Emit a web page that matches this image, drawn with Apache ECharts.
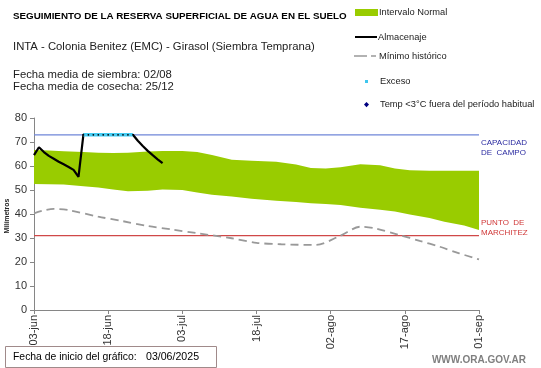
<!DOCTYPE html>
<html><head><meta charset="utf-8">
<script src="https://cdn.jsdelivr.net/npm/echarts@6/dist/echarts.min.js"></script>
<style>html,body{margin:0;padding:0;background:#fff}#c{width:541px;height:368px}</style>
</head><body><div id="c"></div>
<script>
// ---- data ----
var tickLabels = ['03-jun','18-jun','03-jul','18-jul','02-ago','17-ago','01-sep'];
// Intervalo normal (band) : day offsets from 03-jun
var bandDays  = [0, 3, 6, 10, 13, 16, 19, 23, 26, 30, 33, 36, 40, 44, 49, 53, 56, 59, 62, 66, 70, 73, 76, 80, 83, 87, 90];
var bandUpper = [66.7, 66.5, 66.1, 65.8, 65.5, 65.4, 65.5, 66.0, 66.3, 66.2, 65.8, 64.6, 62.6, 62.2, 61.8, 60.6, 59.2, 59.0, 59.5, 60.7, 60.3, 59.0, 58.2, 58.0, 58.0, 58.0, 58.0];
var bandLower = [52.5, 52.4, 52.3, 51.6, 51.0, 50.2, 49.5, 49.7, 50.2, 50.0, 49.0, 48.0, 47.3, 46.4, 45.5, 45.0, 44.5, 44.2, 43.8, 42.6, 41.8, 41.0, 39.8, 38.3, 36.8, 35.2, 33.3];
// Almacenaje
var storeDays = [0, 1, 2, 3, 4, 5, 6, 7, 8, 9, 10, 11, 12, 13, 14, 15, 16, 17, 18, 19, 20, 21, 22, 23, 24, 25, 26];
var storeVals = [64.5, 67.8, 65.8, 64.2, 63.0, 61.8, 60.7, 59.6, 58.4, 55.5, 73.2, 73, 73, 73, 73, 73, 73, 73, 73, 73, 73, 70.5, 68.3, 66.3, 64.5, 62.8, 61.2];
// Exceso
var excessDays = [10, 11, 12, 13, 14, 15, 16, 17, 18, 19, 20];
var excessVals = [73, 73, 73, 73, 73, 73, 73, 73, 73, 73, 73];
// Minimo historico
var minDays = [0, 2, 4, 7, 13, 18, 23, 28, 33, 40, 45, 50, 57, 62, 66, 69, 74, 78, 82, 86, 90];
var minVals = [40.3, 41.5, 42.1, 41.6, 38.9, 37.0, 35.0, 33.5, 32.0, 29.9, 28.0, 27.4, 27.1, 31.0, 34.7, 34.0, 31.2, 28.8, 26.4, 23.6, 21.1];
// Temp <3°C fuera del periodo habitual (none)
var tempDays = [];
var tempVals = [];
var capacidadCampo = 73;
var puntoMarchitez = 31;
var axisSpan = [0, 90];

function pairs(xs, ys){ return xs.map(function(x,i){ return [x, ys[i]]; }); }

var chart = echarts.init(document.getElementById('c'), null, {renderer:'canvas'});
var FONT = 'Liberation Sans, Arial, sans-serif';
chart.setOption({
  animation:false,
  textStyle:{fontFamily:FONT},
  grid:{left:34, right:62, top:118, bottom:58},
  xAxis:{type:'value', min:0, max:90, interval:15,
    axisLine:{lineStyle:{color:'#868686', width:1}},
    axisTick:{show:true, length:4, lineStyle:{color:'#868686'}},
    splitLine:{show:false},
    axisLabel:{rotate:90, fontSize:11, color:'#333', margin:5, fontFamily:FONT,
      formatter:function(v){ return tickLabels[Math.round(v/15)] || ''; }}
  },
  yAxis:{type:'value', min:0, max:80, interval:10,
    axisLine:{show:true, lineStyle:{color:'#868686', width:1}},
    axisTick:{show:true, length:4, lineStyle:{color:'#868686'}},
    splitLine:{show:false},
    axisLabel:{fontSize:11, color:'#333', margin:7, fontFamily:FONT}
  },
  series:[
    {name:'Intervalo Normal', type:'custom', silent:true, z:1,
     data:[[0]],
     renderItem:function(params, api){
       var pts = [];
       for (var i=0;i<bandDays.length;i++) pts.push(api.coord([bandDays[i], bandUpper[i]]));
       for (var j=bandDays.length-1;j>=0;j--) pts.push(api.coord([bandDays[j], bandLower[j]]));
       return {type:'polygon', shape:{points:pts}, style:{fill:'#99cc00'}};
     }},
    {name:'Capacidad', type:'line', symbol:'none', silent:true, z:3,
     data:pairs(axisSpan, [capacidadCampo, capacidadCampo]),
     lineStyle:{color:'#6f86d8', width:1.2}},
    {name:'Marchitez', type:'line', symbol:'none', silent:true, z:3,
     data:pairs(axisSpan, [puntoMarchitez, puntoMarchitez]),
     lineStyle:{color:'#d04848', width:1.2}},
    {name:'Mínimo histórico', type:'line', symbol:'none', data:pairs(minDays, minVals), smooth:0.3,
     lineStyle:{color:'#999999', width:1.8, type:[8,5]}, z:4},
    {name:'Almacenaje', type:'line', symbol:'none', data:pairs(storeDays, storeVals),
     lineStyle:{color:'#000', width:2.2}, z:5},
    {name:'Exceso', type:'line', symbol:'circle', symbolSize:1.7, showSymbol:true,
     data:pairs(excessDays, excessVals),
     itemStyle:{color:'#000', borderWidth:0},
     lineStyle:{color:'#45ccf2', width:3.4}, z:6},
    {name:'Temp', type:'scatter', symbol:'diamond', symbolSize:5, data:pairs(tempDays, tempVals),
     itemStyle:{color:'#000080'}, z:7}
  ],
  graphic:[
    {type:'text', left:13, top:11, style:{text:'SEGUIMIENTO DE LA RESERVA SUPERFICIAL DE AGUA EN EL SUELO', font:'bold 9.8px '+FONT, fill:'#000'}},
    {type:'text', left:13, top:41, style:{text:'INTA - Colonia Benitez (EMC) - Girasol (Siembra Temprana)', font:'11.3px '+FONT, fill:'#222'}},
    {type:'text', left:13, top:69, style:{text:'Fecha media de siembra: 02/08', font:'11.3px '+FONT, fill:'#222'}},
    {type:'text', left:13, top:81, style:{text:'Fecha media de cosecha: 25/12', font:'11.3px '+FONT, fill:'#222'}},
    {type:'text', x:7, y:216, rotation:Math.PI/2, style:{text:'Milímetros', font:'bold 7px '+FONT, fill:'#222', textAlign:'center', textVerticalAlign:'middle'}},
    // legend
    {type:'rect', shape:{x:355, y:9, width:23, height:7}, style:{fill:'#99cc00'}},
    {type:'text', x:379, y:12.6, style:{text:'Intervalo Normal', font:'9.3px '+FONT, fill:'#222', textVerticalAlign:'middle'}},
    {type:'line', shape:{x1:355, y1:37, x2:377, y2:37}, style:{stroke:'#000', lineWidth:2}},
    {type:'text', x:378, y:37, style:{text:'Almacenaje', font:'9.3px '+FONT, fill:'#222', textVerticalAlign:'middle'}},
    {type:'line', shape:{x1:354, y1:56, x2:367, y2:56}, style:{stroke:'#999', lineWidth:1.5}},
    {type:'line', shape:{x1:371, y1:56, x2:376, y2:56}, style:{stroke:'#999', lineWidth:1.5}},
    {type:'text', x:379, y:56, style:{text:'Mínimo histórico', font:'9.3px '+FONT, fill:'#222', textVerticalAlign:'middle'}},
    {type:'rect', shape:{x:365, y:80, width:3, height:3}, style:{fill:'#3fc6ee'}},
    {type:'text', x:380, y:81.4, style:{text:'Exceso', font:'9.3px '+FONT, fill:'#222', textVerticalAlign:'middle'}},
    {type:'polygon', shape:{points:[[366.5,102],[369,104.6],[366.5,107.2],[364,104.6]]}, style:{fill:'#000080'}},
    {type:'text', x:380, y:104.6, style:{text:'Temp <3°C fuera del período habitual', font:'9.3px '+FONT, fill:'#222', textVerticalAlign:'middle'}},
    // right-side labels
    {type:'text', x:481, y:138, style:{text:'CAPACIDAD\nDE  CAMPO', font:'8px '+FONT, fill:'#2a2aa0', lineHeight:10}},
    {type:'text', x:481, y:218, style:{text:'PUNTO  DE\nMARCHITEZ', font:'8px '+FONT, fill:'#d03838', lineHeight:10}},
    // bottom box
    {type:'rect', shape:{x:5.5, y:346.5, width:211, height:21}, style:{fill:'#fff', stroke:'#a08a8a', lineWidth:1}},
    {type:'text', x:13, y:357, style:{text:'Fecha de inicio del gráfico:', font:'10.4px '+FONT, fill:'#000', textVerticalAlign:'middle'}},
    {type:'text', x:146, y:357, style:{text:'03/06/2025', font:'10.6px '+FONT, fill:'#000', textVerticalAlign:'middle'}},
    {type:'text', x:526, y:360, style:{text:'WWW.ORA.GOV.AR', font:'bold 10px '+FONT, fill:'#7f7f7f', textAlign:'right', textVerticalAlign:'middle'}}
  ]
});
</script></body></html>
